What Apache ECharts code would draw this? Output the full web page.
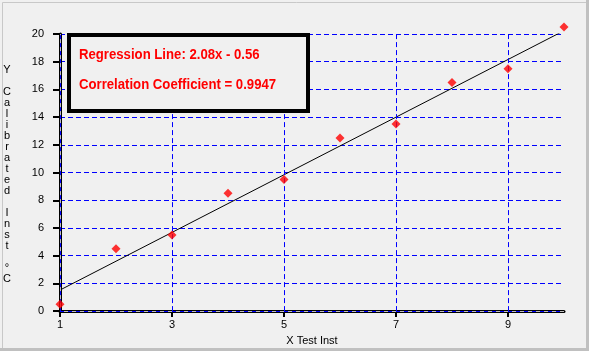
<!DOCTYPE html>
<html>
<head>
<meta charset="utf-8">
<script src="https://cdn.jsdelivr.net/npm/echarts@6/dist/echarts.min.js"></script>
<style>
html,body{margin:0;padding:0;background:#f0f0f0;}
#c{width:589px;height:351px;}
</style>
</head>
<body>
<div id="c"></div>
<script>
// Data
const xValues = [1, 2, 3, 4, 5, 6, 7, 8, 9, 10];
const yValues = [0.5, 4.5, 5.5, 8.5, 9.5, 12.5, 13.5, 16.5, 17.5, 20.5];
const lineX = [1, 10];
const lineY = [1.52, 20.24];
const xTickLabels = [1, 3, 5, 7, 9];
const yTickLabels = [0, 2, 4, 6, 8, 10, 12, 14, 16, 18, 20];
const legendLines = ['Regression Line: 2.08x - 0.56', 'Correlation Coefficient = 0.9947'];
const xTitle = 'X Test Inst';
const yTitle = 'Y Calibrated Inst °C';

const chart = echarts.init(document.getElementById('c'), null, {renderer: 'canvas'});
const font = 'Arial, "Liberation Sans", sans-serif';

const option = {
  backgroundColor: '#f0f0f0',
  animation: false,
  grid: {left: 60, right: 25, top: 34, bottom: 34, containLabel: false},
  xAxis: {
    type: 'value', min: 1, max: 10,
    axisLine: {show: true, lineStyle: {color: '#000', width: 3}},
    axisTick: {show: true, length: 6, lineStyle: {color: '#000', width: 2}, customValues: xTickLabels},
    axisLabel: {color: '#000', fontSize: 11, fontFamily: font, margin: 8, customValues: xTickLabels},
    splitLine: {show: false},
    name: xTitle, nameLocation: 'middle', nameGap: 19,
    nameTextStyle: {color: '#000', fontSize: 11, fontFamily: font}
  },
  yAxis: {
    type: 'value', min: 0, max: 20, interval: 2,
    axisLine: {show: true, lineStyle: {color: '#000', width: 3}},
    axisTick: {show: true, length: 7, lineStyle: {color: '#000', width: 2}},
    axisLabel: {color: '#000', fontSize: 11, fontFamily: font, margin: 16,
      formatter: v => yTickLabels.includes(v) ? String(v) : ''},
    splitLine: {show: true, lineStyle: {color: '#0000ff', width: 1, type: [5, 3]}}
  },
  graphic: [
    {type: 'rect', left: 0, top: 0, shape: {width: 589, height: 351},
     style: {fill: 'none', stroke: '#c8c8c8', lineWidth: 1}, silent: true, z: -1},
    {type: 'line', shape: {x1: 587.5, y1: 0, x2: 587.5, y2: 351}, style: {stroke: '#c0c0c0', lineWidth: 3}, silent: true},
    {type: 'line', shape: {x1: 0, y1: 349.5, x2: 589, y2: 349.5}, style: {stroke: '#c0c0c0', lineWidth: 3}, silent: true},
    {type: 'rect', shape: {x: 69, y: 35, width: 239, height: 76},
     style: {fill: '#f0f0f0', stroke: '#000', lineWidth: 4}, z: 100},
    {type: 'text', x: 79, y: 55, scaleX: 0.94, z: 101,
     style: {text: legendLines[0], fill: '#ff0000', font: 'bold 14px ' + font, verticalAlign: 'middle'}},
    {type: 'text', x: 79, y: 85, scaleX: 0.94, z: 101,
     style: {text: legendLines[1], fill: '#ff0000', font: 'bold 14px ' + font, verticalAlign: 'middle'}},
    {type: 'text', x: 7, y: 64.5, z: 101,
     style: {text: yTitle.split('').join('\n'), fill: '#000', font: '11px ' + font,
       lineHeight: 11, align: 'center', verticalAlign: 'top'}}
  ],
  series: [
    {
      type: 'line', data: lineX.map((x, i) => [x, lineY[i]]),
      symbol: 'none', lineStyle: {color: '#000', width: 1}, z: 3, silent: true,
      markLine: {
        silent: true, symbol: 'none', label: {show: false},
        lineStyle: {color: '#0000ff', width: 1, type: [5, 3]},
        data: xTickLabels.filter(v => v !== 1).map(v => ({xAxis: v}))
      }
    },
    {
      type: 'line', data: [], z: 4, silent: true,
      markLine: {
        silent: true, symbol: 'none', label: {show: false},
        lineStyle: {color: '#c0c0c0', width: 1, type: 'solid'},
        data: [{yAxis: 0}, {xAxis: 1}]
      }
    },
    {
      type: 'line', data: [], z: 5, silent: true,
      markLine: {
        silent: true, symbol: 'none', label: {show: false},
        lineStyle: {color: '#0000ff', width: 1, type: [4, 4]},
        data: [{yAxis: 0}, {xAxis: 1}]
      }
    },
    {
      type: 'scatter', data: xValues.map((x, i) => [x, yValues[i]]), clip: false,
      symbol: 'diamond', symbolSize: 9, itemStyle: {color: '#ff0000'}, z: 10, silent: true
    }
  ]
};
chart.setOption(option);
</script>
</body>
</html>
